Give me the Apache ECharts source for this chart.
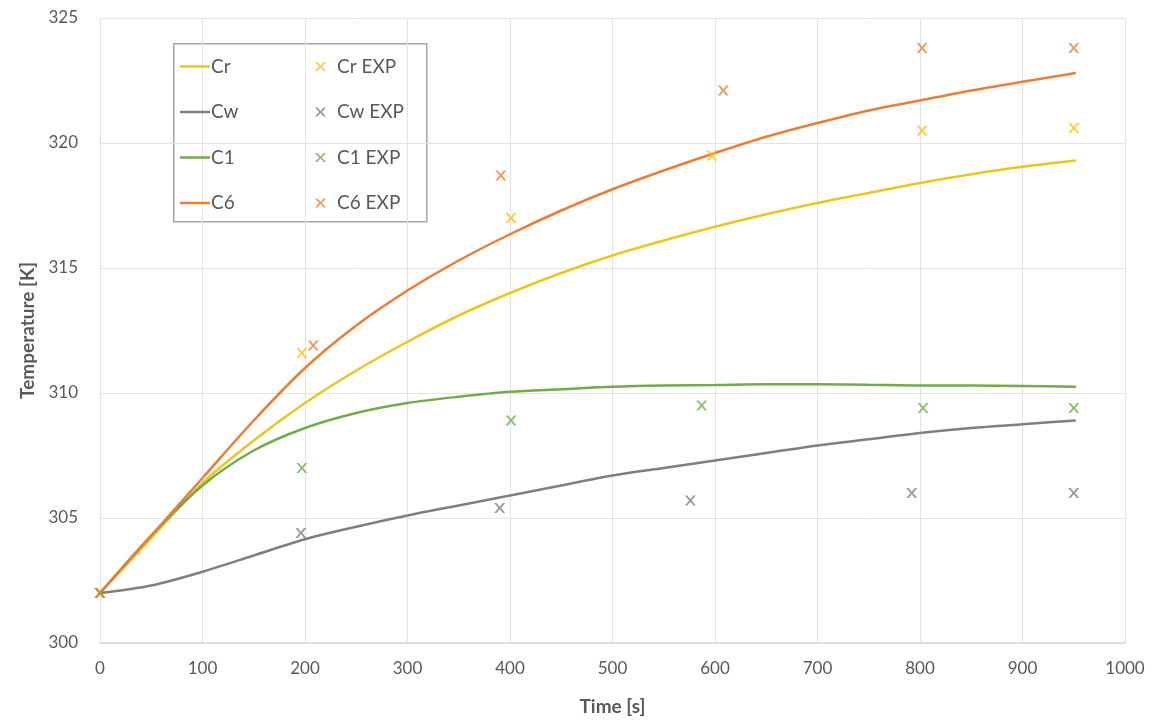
<!DOCTYPE html>
<html>
<head>
<meta charset="utf-8">
<script src="https://cdn.jsdelivr.net/npm/echarts@6/dist/echarts.min.js"></script>
<style>
  html, body { margin: 0; padding: 0; background: #ffffff; }
  #chart { width: 1158px; height: 724px; }
</style>
</head>
<body>
<div id="chart"></div>
<script>
// Simulation output times [s]
const simTime = [0,50,100,150,200,250,300,350,400,450,500,550,600,650,700,750,800,850,900,952];
// Simulated temperatures [K]
const crSim = [302,304.2,306.4,308.1,309.6,310.9,312.05,313.1,314.0,314.8,315.5,316.1,316.65,317.15,317.6,318.0,318.4,318.75,319.05,319.3];
const cwSim = [302,302.3,302.85,303.5,304.15,304.65,305.1,305.5,305.9,306.3,306.7,307.0,307.3,307.6,307.9,308.15,308.4,308.6,308.75,308.9];
const c1Sim = [302,304.3,306.3,307.7,308.6,309.2,309.6,309.85,310.05,310.15,310.25,310.3,310.32,310.35,310.35,310.33,310.3,310.3,310.28,310.25];
const c6Sim = [302,304.3,306.6,308.9,311.0,312.7,314.1,315.3,316.35,317.3,318.15,318.9,319.6,320.25,320.8,321.3,321.7,322.1,322.45,322.8];

// Measured temperatures [K] at measurement times [s]
const crExp = [[0,302],[197,311.6],[401,317.0],[597,319.5],[802,320.5],[950,320.6]];
const cwExp = [[0,302],[196,304.4],[390,305.4],[576,305.7],[792,306.0],[950,306.0]];
const c1Exp = [[0,302],[197,307.0],[401,308.9],[587,309.5],[803,309.4],[950,309.4]];
const c6Exp = [[0,302],[208,311.9],[391,318.7],[608,322.1],[802,323.8],[950,323.8]];

const lineNames = ['Cr', 'Cw', 'C1', 'C6'];
const expNames = ['Cr EXP', 'Cw EXP', 'C1 EXP', 'C6 EXP'];
const lineColors = ['#EBC817', '#7F7F7F', '#70AD47', '#ED7D31'];
const expColors = ['#FFC000', '#7F7F7F', '#70AD47', '#ED7D31'];

const crossPath = 'path://M0,0 L2.2,0 L5,3 L7.8,0 L10,0 L6.2,4 L10,8 L7.8,8 L5,5 L2.2,8 L0,8 L3.8,4 Z';
const FONT = 'Lato, "Open Sans", sans-serif';

const simData = [crSim, cwSim, c1Sim, c6Sim];
const expData = [crExp, cwExp, c1Exp, c6Exp];

const series = [];
simData.forEach((vals, i) => {
  series.push({
    name: lineNames[i], type: 'line',
    data: simTime.map((t, k) => [t, vals[k]]),
    smooth: 0.3, symbol: 'none',
    lineStyle: { width: 2.5, color: lineColors[i] },
    itemStyle: { color: lineColors[i] }, z: 2
  });
});
expData.forEach((d, i) => {
  series.push({
    name: expNames[i], type: 'scatter', data: d,
    symbol: crossPath, symbolSize: [11, 10],
    itemStyle: { color: expColors[i] }, z: 3
  });
});

const chart = echarts.init(document.getElementById('chart'), null, { renderer: 'canvas' });
chart.setOption({
  animation: false,
  backgroundColor: '#ffffff',
  grid: { left: 100, right: 33, top: 18, bottom: 81, containLabel: false },
  xAxis: {
    type: 'value', min: 0, max: 1000, interval: 100,
    name: 'Time [s]', nameLocation: 'middle', nameGap: 54,
    nameTextStyle: { fontFamily: FONT, fontSize: 19, fontWeight: 'bold', color: '#595959' },
    axisLine: { show: true, lineStyle: { color: '#D9D9D9', width: 1.5 } },
    axisTick: { show: false },
    axisLabel: { fontFamily: FONT, fontSize: 17, color: '#595959', margin: 17, formatter: v => String(v) },
    splitLine: { show: true, lineStyle: { color: '#E3E3E3', width: 1 } }
  },
  yAxis: {
    type: 'value', min: 300, max: 325, interval: 5,
    name: 'Temperature [K]', nameLocation: 'middle', nameGap: 62, nameRotate: 90,
    nameTextStyle: { fontFamily: FONT, fontSize: 19, fontWeight: 'bold', color: '#595959' },
    axisLine: { show: false },
    axisTick: { show: false },
    axisLabel: { fontFamily: FONT, fontSize: 17, color: '#595959', margin: 22 },
    splitLine: { show: true, lineStyle: { color: '#E3E3E3', width: 1 } }
  },
  legend: [
    {
      data: lineNames, orient: 'vertical', left: 180, top: 57, padding: 0,
      icon: 'rect', itemWidth: 30, itemHeight: 2.5, itemGap: 26.5,
      textStyle: { fontFamily: FONT, fontSize: 19, color: '#595959', padding: [0, 0, 0, -4] }
    },
    {
      data: expNames, orient: 'vertical', left: 315, top: 57, padding: 0,
      itemWidth: 11, itemHeight: 10, itemGap: 26.5,
      textStyle: { fontFamily: FONT, fontSize: 19, color: '#595959', padding: [0, 0, 0, 6] }
    }
  ],
  graphic: [{
    type: 'rect', left: 173, top: 43, z: 0,
    shape: { width: 253, height: 178 },
    style: { fill: '#ffffff', stroke: '#A6A6A6', lineWidth: 1.5 }
  }],
  series: series
});
</script>
</body>
</html>
